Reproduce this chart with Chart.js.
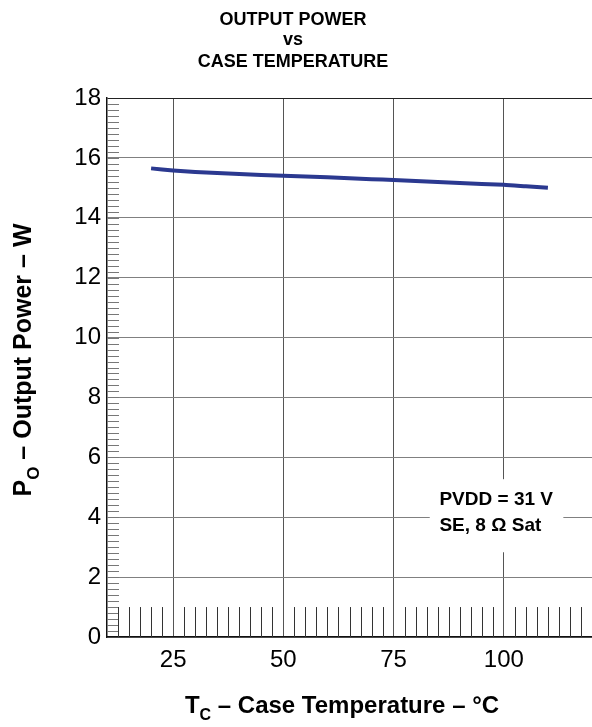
<!DOCTYPE html>
<html>
<head>
<meta charset="utf-8">
<script src="https://cdn.jsdelivr.net/npm/chart.js@4.4.1/dist/chart.umd.min.js"></script>
<style>
  html, body { margin: 0; padding: 0; background: #fff; }
  #wrap { width: 592px; height: 727px; position: relative; }
</style>
</head>
<body>
<div id="wrap"><canvas id="chart"></canvas></div>
<script>
// case temperature (°C) and output power (W)
const tempC = [20, 25, 30, 40, 50, 60, 70, 75, 80, 90, 100, 105, 110];
const powerW = [15.65, 15.58, 15.53, 15.46, 15.40, 15.35, 15.29, 15.26, 15.23, 15.16, 15.10, 15.05, 15.00];

const xTicks = [25, 50, 75, 100];
const yTicks = [0, 2, 4, 6, 8, 10, 12, 14, 16, 18];
const titleLines = ['OUTPUT POWER', 'vs', 'CASE TEMPERATURE'];
const noteLines = ['PVDD = 31 V', 'SE, 8 \u03A9 Sat'];

const FONT = '"Liberation Sans", Arial, Helvetica, sans-serif';

// draws text with a subscript after the first letter, e.g. P_O
function subText(ctx, main, sub, rest, x, y, size) {
    const big = `bold ${size}px ${FONT}`;
    const small = `bold ${Math.round(size * 0.68)}px ${FONT}`;
    ctx.font = big;
    const w1 = ctx.measureText(main).width;
    const w3 = ctx.measureText(rest).width;
    ctx.font = small;
    const w2 = ctx.measureText(sub).width;
    let cx = x - (w1 + w2 + w3) / 2;
    ctx.textAlign = 'left';
    ctx.textBaseline = 'alphabetic';
    ctx.font = big;
    ctx.fillText(main, cx, y);
    cx += w1;
    ctx.font = small;
    ctx.fillText(sub, cx, y + size * 0.3);
    cx += w2;
    ctx.font = big;
    ctx.fillText(rest, cx, y);
}

const extras = {
    id: 'extras',
    beforeDatasetsDraw(chart) {
        const { ctx, chartArea: a, scales: { x, y } } = chart;
        ctx.save();
        // minor ticks on the y axis (every 0.2 W)
        ctx.strokeStyle = '#777';
        ctx.lineWidth = 1;
        ctx.beginPath();
        for (let i = 1; i < 90; i++) {
            const py = Math.round(y.getPixelForValue(i * 0.2)) + 0.5;
            ctx.moveTo(a.left, py);
            ctx.lineTo(a.left + 12, py);
        }
        ctx.stroke();
        // minor ticks on the x axis (every 2.5 °C, one unit high)
        ctx.strokeStyle = '#333';
        ctx.beginPath();
        for (let i = 1; i < 44; i++) {
            const v = 10 + i * 2.5;
            if (v % 25 === 0) continue;
            const px = Math.round(x.getPixelForValue(v)) + 0.5;
            ctx.moveTo(px, y.getPixelForValue(0));
            ctx.lineTo(px, y.getPixelForValue(1));
        }
        ctx.stroke();
        // condition note box
        const bx0 = x.getPixelForValue(83.2), bx1 = x.getPixelForValue(113.5);
        const by0 = y.getPixelForValue(5.27), by1 = y.getPixelForValue(2.83);
        ctx.fillStyle = '#fff';
        ctx.fillRect(bx0, by0, bx1 - bx0, by1 - by0);
        ctx.fillStyle = '#000';
        ctx.font = `bold 19px ${FONT}`;
        ctx.textAlign = 'left';
        ctx.textBaseline = 'alphabetic';
        ctx.fillText(noteLines[0], x.getPixelForValue(85.4), y.getPixelForValue(4.4));
        ctx.fillText(noteLines[1], x.getPixelForValue(85.4), y.getPixelForValue(3.53));
        ctx.restore();
    },
    afterDraw(chart) {
        const { ctx } = chart;
        ctx.save();
        ctx.fillStyle = '#000';
        // title
        ctx.font = `bold 18px ${FONT}`;
        ctx.textAlign = 'center';
        ctx.textBaseline = 'alphabetic';
        const ty = [25, 45, 67];
        titleLines.forEach((t, i) => ctx.fillText(t, 293, ty[i]));
        // x axis title
        subText(ctx, 'T', 'C', ' \u2013 Case Temperature \u2013 \u00B0C', 342, 713, 24);
        // y axis title
        ctx.translate(31, 360);
        ctx.rotate(-Math.PI / 2);
        subText(ctx, 'P', 'O', ' \u2013 Output Power \u2013 W', 0, 0, 25);
        ctx.restore();
    }
};

new Chart(document.getElementById('chart'), {
    type: 'line',
    data: {
        datasets: [{
            data: tempC.map((t, i) => ({ x: t, y: powerW[i] })),
            borderColor: '#2b3990',
            borderWidth: 4,
            pointRadius: 0,
            tension: 0.2,
            fill: false
        }]
    },
    options: {
        responsive: true,
        maintainAspectRatio: false,
        devicePixelRatio: 1,
        animation: false,
        layout: { padding: { top: 98, right: 0, left: 0, bottom: 0 } },
        plugins: { legend: { display: false }, tooltip: { enabled: false } },
        scales: {
            x: {
                type: 'linear',
                min: 10,
                max: 120,
                afterBuildTicks: s => { s.ticks = xTicks.map(v => ({ value: v })); },
                afterFit: s => { s.height = 90; },
                ticks: { color: '#000', font: { size: 24, family: FONT }, padding: 9, maxRotation: 0 },
                grid: { color: '#555', lineWidth: 1, drawTicks: false },
                border: { display: true, color: '#111', width: 1.5 }
            },
            y: {
                min: 0,
                max: 18,
                afterBuildTicks: s => { s.ticks = yTicks.map(v => ({ value: v })); },
                afterFit: s => { s.width = 107; },
                ticks: { color: '#000', font: { size: 24, family: FONT }, padding: 6 },
                grid: {
                    color: c => (c.tick && c.tick.value === 18 ? '#222' : '#808080'),
                    lineWidth: 1,
                    drawTicks: false
                },
                border: { display: true, color: '#111', width: 1.5 }
            }
        }
    },
    plugins: [extras]
});
</script>
</body>
</html>
